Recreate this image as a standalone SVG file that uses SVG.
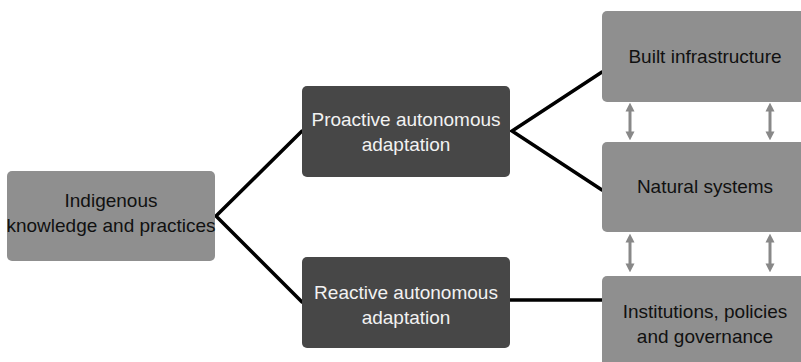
<svg xmlns="http://www.w3.org/2000/svg" width="801" height="362" viewBox="0 0 801 362">
<style>
.light{fill:#8f8f8f}
.dark{fill:#474747}
.t{font-family:"Liberation Sans",Arial,sans-serif;font-size:19px;text-anchor:middle}
.tl{fill:#111}
.td{fill:#f2f2f2}
.c{stroke:#000;stroke-width:3.5;fill:none;stroke-linecap:round}
.a{stroke:#888;stroke-width:3;fill:none}
</style>
<defs>
<marker id="ah" viewBox="0 0 10 10" refX="4" refY="5" markerWidth="9" markerHeight="10" orient="auto-start-reverse" markerUnits="userSpaceOnUse">
<path d="M0,0 L10,5 L0,10 z" fill="#888"/>
</marker>
</defs>
<rect width="801" height="362" fill="#fff"/>
<g id="connectors">
<path class="c" d="M302,131 L216,216 L302,302"/>
<path class="c" d="M602,72 L512,131 L602,190"/>
<path class="c" d="M510,300 L602,300"/>
<g class="a">
<line x1="630" y1="108" x2="630" y2="135" marker-start="url(#ah)" marker-end="url(#ah)"/>
<line x1="770" y1="108" x2="770" y2="135" marker-start="url(#ah)" marker-end="url(#ah)"/>
<line x1="630" y1="239" x2="630" y2="267" marker-start="url(#ah)" marker-end="url(#ah)"/>
<line x1="770" y1="239" x2="770" y2="267" marker-start="url(#ah)" marker-end="url(#ah)"/>
</g>
</g>
<g id="indigenous">
<rect class="light" x="7" y="171" width="208" height="90" rx="5"/>
<text class="t tl" x="111" y="207">Indigenous</text>
<text class="t tl" x="111" y="232">knowledge and practices</text>
</g>
<g id="proactive">
<rect class="dark" x="302" y="86" width="208" height="91" rx="5"/>
<text class="t td" x="406" y="126">Proactive autonomous</text>
<text class="t td" x="406" y="151">adaptation</text>
</g>
<g id="reactive">
<rect class="dark" x="302" y="257" width="208" height="91" rx="5"/>
<text class="t td" x="406" y="299">Reactive autonomous</text>
<text class="t td" x="406" y="324">adaptation</text>
</g>
<g id="built">
<rect class="light" x="602" y="11" width="210" height="91" rx="5"/>
<text class="t tl" x="705" y="63">Built infrastructure</text>
</g>
<g id="natural">
<rect class="light" x="602" y="142" width="210" height="90" rx="5"/>
<text class="t tl" x="705" y="193">Natural systems</text>
</g>
<g id="institutions">
<rect class="light" x="602" y="276" width="210" height="100" rx="5"/>
<text class="t tl" x="705" y="318">Institutions, policies</text>
<text class="t tl" x="705" y="343">and governance</text>
</g>
</svg>
